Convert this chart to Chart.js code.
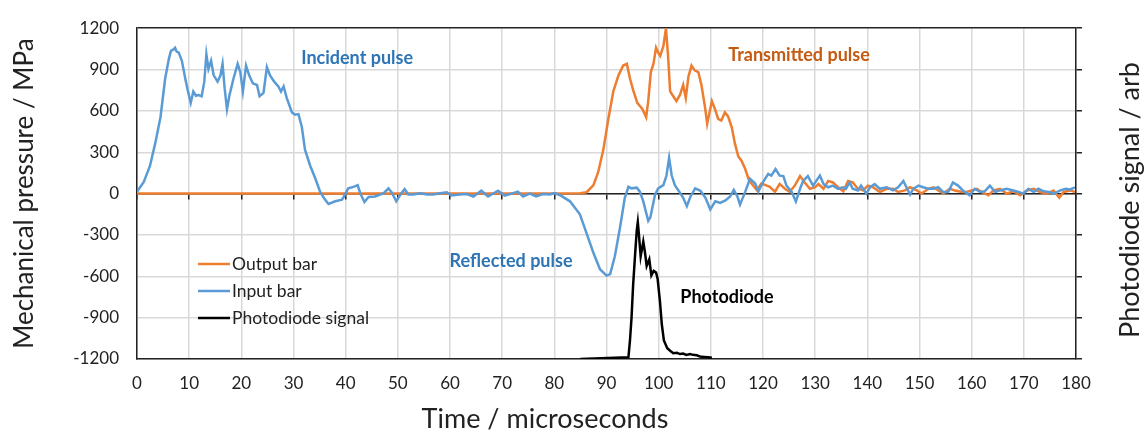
<!DOCTYPE html>
<html>
<head>
<meta charset="utf-8">
<script src="https://cdn.jsdelivr.net/npm/chart.js@4.4.1/dist/chart.umd.min.js"></script>
<style>
    html, body { margin: 0; padding: 0; background: #fff; }
    #wrap { width: 1145px; height: 434px; }
</style>
</head>
<body>
<div id="wrap"><canvas id="pulseChart" width="1145" height="434"></canvas></div>
<script>
// Time in microseconds, pressure in MPa, photodiode in arbitrary units
const inputTime = [0, 1.3, 2.5, 3.5, 4.5, 5.4, 6.1, 6.5, 7.0, 7.3, 7.6, 8.0, 8.6, 9.25, 9.7, 10.3, 10.8, 11.3, 11.8, 12.4,
    12.9, 13.3, 13.7, 14.2, 14.7, 15.45, 16.0, 16.4, 16.8, 17.25, 17.75, 18.5, 19.3, 19.8, 20.3, 20.9, 21.5, 22.2, 23.0, 23.5,
    24.25, 24.9, 25.5, 26.3, 27.1, 27.6, 28.1, 28.7, 29.7, 30.3, 30.95, 31.6, 32.2, 33.2, 34.2, 35.1, 35.8, 36.7, 38.0, 39.3,
    39.6, 40.5, 41.5, 42.3, 42.8, 43.6, 44.4, 45.65, 46.6, 47.3, 48.2, 48.8, 49.7, 50.5, 51.3, 52.0, 53.0, 54.3, 55.6, 56.8,
    58.1, 59.4, 60.3, 61.9, 63.2, 64.5, 66.0, 67.3, 69.2, 70.5, 71.8, 73.0, 74.0, 75.3, 76.5, 77.8, 79.1, 80.0, 81.1, 83.0,
    84.9, 86.2, 87.5, 88.75, 90.0, 90.7, 91.6, 92.6, 93.5, 94.2, 94.8, 95.8, 96.4, 97.05, 98.0, 98.4, 99.3, 99.9, 100.9, 101.5,
    102.0, 102.5, 103.1, 104.1, 104.7, 105.4, 106.1, 107.0, 108.0, 109.0, 109.9, 110.85, 111.8, 112.8, 113.7, 114.4, 115.1, 115.6, 116.6, 117.5,
    118.5, 119.1, 120.0, 121.0, 121.6, 122.4, 123.2, 123.9, 124.5, 125.5, 126.3, 127.1, 127.7, 128.6, 129.6, 130.9, 131.6, 132.5, 133.4, 134.4,
    135.3, 135.9, 136.6, 137.2, 138.2, 138.8, 139.8, 140.5, 141.4, 142.4, 143.7, 144.9, 145.9, 146.9, 147.5, 148.2, 148.8, 149.8, 150.7, 151.7,
    152.6, 153.6, 154.5, 155.5, 156.4, 157.4, 158.3, 159.6, 160.6, 161.6, 162.5, 163.5, 164.5, 165.4, 166.7, 168.0, 169.0, 169.9, 170.9, 171.9,
    172.8, 173.8, 174.8, 175.7, 177.0, 178.0, 178.9, 179.8];
const inputPressure = [14, 84, 202, 366, 554, 835, 976, 1035, 1046, 1058, 1030, 1023, 964, 835, 753, 659, 741, 710, 715, 706,
    812, 1011, 905, 964, 858, 812, 858, 941, 765, 612, 718, 835, 941, 882, 741, 929, 858, 800, 788, 706,
    730, 918, 858, 812, 777, 741, 777, 694, 589, 573, 577, 483, 319, 202, 108, 14, -30, -75, -56, -44,
    -25, 38, 49, 61, 3, -61, -25, -21, -7, 3, 38, 10, -56, -7, 33, -7, -7, 3, -7, -7,
    3, 10, -14, -7, -3, -21, 21, -21, 21, -14, 0, 14, -21, 0, -21, -3, -7, 3, -12, -56,
    -150, -290, -431, -549, -595, -584, -455, -244, -33, 49, 38, 43, 14, -56, -197, -173, -9, 38, 61, 131,
    260, 131, 61, 5, -30, -91, -21, 38, 20, -33, -115, -56, -67, -50, -21, 27, -21, -80, 14, 108,
    73, 14, 84, 143, 130, 178, 130, 127, 58, 12, -58, 35, 92, 127, 58, 131, 69, 46, 58, 35,
    46, 35, 81, 35, 23, 58, 0, 46, 69, 35, 46, 23, 46, 92, 46, -7, 35, 58, 46, 35,
    35, 46, 12, 12, 81, 58, 23, -12, 35, 12, 17, 58, 12, 23, 35, 23, 12, 0, 35, 12,
    35, 17, 12, 0, 23, 35, 30, 46];

const outputTime = [0, 40, 80, 85, 86.2, 87.5, 88.4, 89.4, 90.3, 91.3, 92.3, 93.2, 93.9, 94.5, 95.1, 95.9, 96.4, 96.9, 97.6, 98.0,
    98.5, 99.0, 99.5, 99.9, 100.3, 100.9, 101.4, 101.8, 102.2, 102.8, 103.4, 104.1, 104.7, 105.2, 105.7, 106.3, 106.9, 107.6, 108.2, 108.9,
    109.3, 110.2, 110.8, 111.4, 112.0, 112.7, 113.3, 114.0, 114.6, 115.25, 115.9, 116.6, 117.2, 117.8, 118.8, 119.7, 120.5, 121.3, 122.3, 123.2,
    124.2, 125.1, 126.1, 127.1, 128.0, 129.0, 130.0, 130.6, 131.6, 132.5, 133.4, 134.4, 135.4, 136.3, 137.2, 138.2, 139.2, 140.1, 141.1, 142.4,
    143.7, 144.9, 145.9, 147.2, 148.2, 149.5, 150.4, 151.7, 152.7, 153.6, 154.6, 155.8, 156.8, 158.1, 159.0, 160.0, 161.0, 161.9, 163.2, 164.2,
    165.4, 166.7, 168.0, 169.3, 170.6, 171.9, 173.1, 174.4, 175.7, 176.8, 177.6, 178.9, 179.8];
const outputPressure = [0, 0, 0, 2, 10, 61, 155, 319, 530, 741, 858, 929, 941, 835, 753, 659, 636, 612, 554, 671,
    882, 941, 1058, 1023, 1000, 1070, 1199, 1000, 741, 706, 671, 718, 788, 694, 847, 929, 894, 882, 788, 624,
    507, 671, 612, 542, 530, 589, 560, 483, 366, 272, 237, 178, 108, 73, 26, 73, 61, 49, 14, 70,
    35, 12, 58, 127, 81, 35, 46, 69, 35, 92, 81, 46, 17, 92, 81, 35, 23, 58, 46, 12,
    35, 35, 12, 23, 46, 23, 0, 35, 46, 23, 0, 35, 23, 12, 12, 23, 35, 12, -12, 23,
    35, 0, 17, -12, 23, 35, 12, 0, 23, -30, 12, 23, 12];

const photoTime = [85, 94.2, 94.5, 94.8, 95.1, 95.5, 95.8, 96.0, 96.2, 96.55, 97.05, 97.35, 97.7, 98.2, 98.6, 99.05, 99.5, 99.8, 100.25, 100.6,
    101.0, 101.65, 102.2, 102.8, 103.5, 104.1, 104.7, 105.3, 106.0, 106.6, 107.3, 107.9, 108.7, 109.5, 110.2];
const photoSignal = [0, 0.04, 0.45, 1.0, 1.78, 2.56, 3.11, 3.31, 3.03, 2.48, 2.84, 2.6, 2.25, 2.41, 2.02, 2.13, 2.09, 1.94, 1.39, 0.84,
    0.45, 0.26, 0.2, 0.14, 0.15, 0.12, 0.13, 0.1, 0.12, 0.1, 0.09, 0.06, 0.05, 0.04, 0.03];

const timeTicks = [0, 10, 20, 30, 40, 50, 60, 70, 80, 90, 100, 110, 120, 130, 140, 150, 160, 170, 180];
const pressureTicks = [-1200, -900, -600, -300, 0, 300, 600, 900, 1200];
const photoTicks = [0, 1, 2, 3, 4, 5, 6, 7, 8];

const FONT = 'Lato, "Open Sans", sans-serif';
const TEXT = '#222';

function toPoints(xs, ys) {
    return xs.map((x, i) => ({ x: x, y: ys[i] }));
}

// text labels, legend and the axis titles that Chart.js can't place like Excel does
const overlayPlugin = {
    id: 'overlay',
    afterDraw(chart) {
        const ctx = chart.ctx;
        const x = chart.scales.x;
        const y = chart.scales.y;
        ctx.save();

        const notes = [
            { text: 'Incident pulse', t: 42.2, p: 983, color: '#2E75B6' },
            { text: 'Transmitted pulse', t: 126.9, p: 1004, color: '#C55A11' },
            { text: 'Reflected pulse', t: 71.7, p: -488, color: '#2E75B6' },
            { text: 'Photodiode', t: 113.1, p: -755, color: '#000' }
        ];
        ctx.font = 'bold 18px ' + FONT;
        ctx.textAlign = 'center';
        ctx.textBaseline = 'middle';
        notes.forEach(n => {
            ctx.fillStyle = n.color;
            ctx.fillText(n.text, x.getPixelForValue(n.t), y.getPixelForValue(n.p));
        });

        // legend inside the plot
        const items = [0, 1, 2].map(i => chart.data.datasets[i]);
        ctx.font = '17.5px ' + FONT;
        ctx.textAlign = 'left';
        items.forEach((ds, i) => {
            const ly = 264 + i * 27;
            ctx.strokeStyle = ds.borderColor;
            ctx.lineWidth = 2.5;
            ctx.beginPath();
            ctx.moveTo(198, ly);
            ctx.lineTo(230, ly);
            ctx.stroke();
            ctx.fillStyle = TEXT;
            ctx.fillText(ds.label, 232, ly);
        });

        // bottom title sits left of centre in the original
        ctx.fillStyle = TEXT;
        ctx.textAlign = 'center';
        ctx.font = '27px ' + FONT;
        ctx.fillText('Time / microseconds', 545, 419);

        // right axis title, reading bottom to top
        ctx.translate(1130, 200);
        ctx.rotate(-Math.PI / 2);
        ctx.font = '27px ' + FONT;
        ctx.fillText('Photodiode signal / arb', 0, 0);
        ctx.restore();
    }
};

const ctx = document.getElementById('pulseChart').getContext('2d');
new Chart(ctx, {
    type: 'line',
    data: {
        datasets: [{
            label: 'Output bar',
            data: toPoints(outputTime, outputPressure),
            borderColor: '#ED7D31',
            borderWidth: 2.5,
            pointRadius: 0,
            tension: 0,
            yAxisID: 'y',
            order: 2
        }, {
            label: 'Input bar',
            data: toPoints(inputTime, inputPressure),
            borderColor: '#5B9BD5',
            borderWidth: 2.5,
            pointRadius: 0,
            tension: 0,
            yAxisID: 'y',
            order: 1
        }, {
            label: 'Photodiode signal',
            data: toPoints(photoTime, photoSignal),
            borderColor: '#000000',
            borderWidth: 2.5,
            pointRadius: 0,
            tension: 0,
            yAxisID: 'y2',
            order: 0
        }]
    },
    options: {
        responsive: false,
        animation: false,
        devicePixelRatio: 1,
        layout: { padding: { top: 18, left: 0, right: 0, bottom: 0 } },
        plugins: {
            legend: { display: false },
            tooltip: { enabled: false }
        },
        scales: {
            x: {
                type: 'linear',
                min: 0,
                max: 180,
                afterBuildTicks: s => { s.ticks = timeTicks.map(v => ({ value: v })); },
                afterFit: s => { s.height = 75; },
                ticks: { color: TEXT, font: { family: FONT, size: 17 }, padding: 14, maxRotation: 0,
                    callback: v => String(v) },
                grid: { color: '#d9d9d9', lineWidth: 1.5, drawTicks: false },
                border: { color: '#222', width: 1.5 }
            },
            x2: {
                type: 'linear',
                position: { y: 0 },
                min: 0,
                max: 180,
                afterBuildTicks: s => { s.ticks = timeTicks.map(v => ({ value: v })); },
                ticks: { display: false },
                grid: { drawOnChartArea: false, drawTicks: true, tickLength: 5, color: '#222', lineWidth: 1.5 },
                border: { color: '#222', width: 1.5 }
            },
            y: {
                type: 'linear',
                position: 'left',
                min: -1200,
                max: 1200,
                afterBuildTicks: s => { s.ticks = pressureTicks.map(v => ({ value: v })); },
                afterFit: s => { s.width = 137; },
                ticks: { color: TEXT, font: { family: FONT, size: 17 }, padding: 18,
                    callback: v => String(v) },
                grid: {
                    color: c => (c.tick && c.tick.value === 1200 ? '#222' : '#d9d9d9'),
                    lineWidth: 1.5,
                    drawTicks: false
                },
                border: { color: '#222', width: 1.5 },
                title: {
                    display: true,
                    text: 'Mechanical pressure / MPa',
                    color: TEXT,
                    font: { family: FONT, size: 26 },
                    padding: { top: 9, bottom: 0 }
                }
            },
            y2: {
                type: 'linear',
                position: 'right',
                min: 0,
                max: 8,
                afterBuildTicks: s => { s.ticks = photoTicks.map(v => ({ value: v })); },
                afterFit: s => { s.width = 69; },
                ticks: { display: false },
                grid: { drawOnChartArea: false, drawTicks: true, tickLength: 6, color: '#222', lineWidth: 1.5 },
                border: { color: '#222', width: 1.5 }
            }
        }
    },
    plugins: [overlayPlugin]
});
</script>
</body>
</html>
